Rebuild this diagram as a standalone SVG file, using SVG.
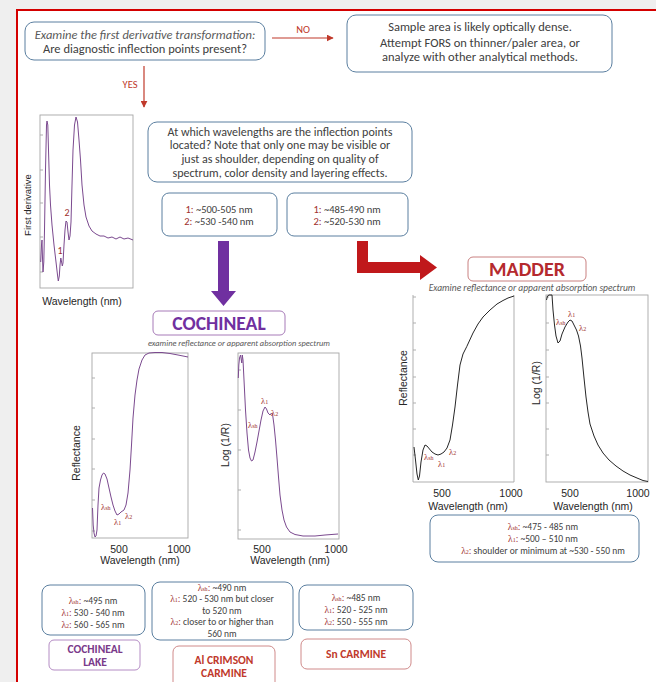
<svg xmlns="http://www.w3.org/2000/svg" width="656" height="682" viewBox="0 0 656 682">
<defs>
<style>
.t{font-family:Carlito,Lato,"Liberation Sans",sans-serif;fill:#404040}
.it{font-style:italic;fill:#595959}
.ax{font-family:"Liberation Sans",Arial,sans-serif;font-size:10.5px;fill:#262626}
.lam{font-family:"Liberation Serif","DejaVu Serif",serif;fill:#a0302e}
.red{fill:#a0302e}
.box{fill:#ffffff;stroke:#5b7fa0;stroke-width:1}
.frame{fill:none;stroke:#a6a6a6;stroke-width:0.9}
.tick{stroke:#a6a6a6;stroke-width:0.9}
.cp{fill:none;stroke:#7b4a8f;stroke-width:1;stroke-linejoin:round}
.cm{fill:none;stroke:#262626;stroke-width:1;stroke-linejoin:round}
.conn{stroke:#c0392b;stroke-width:1.2;fill:none}
</style>
<marker id="ah" viewBox="0 0 10 10" refX="9" refY="5" markerWidth="7" markerHeight="7" orient="auto" markerUnits="userSpaceOnUse">
<path d="M0,0 L10,5 L0,10 z" fill="#c0392b"/>
</marker>
</defs>
<rect x="0" y="0" width="656" height="682" fill="#efefef"/>
<rect x="17" y="10" width="660" height="700" fill="#ffffff" stroke="#d40000" stroke-width="2"/>

<g id="connectors">
<line class="conn" x1="272" y1="38" x2="333" y2="38" marker-end="url(#ah)"/>
<text class="t" x="303" y="33" font-size="10.5" text-anchor="middle" style="fill:#c0392b">NO</text>
<line class="conn" x1="144" y1="66" x2="144" y2="107" marker-end="url(#ah)"/>
<text class="t" x="130" y="88" font-size="10.5" text-anchor="middle" style="fill:#c0392b">YES</text>
<path d="M218,241 H229 V291 H236 L223.5,306 L211,291 H218 Z" fill="#7030a0"/>
<path d="M357,241 H368 V262 H420 V255 L437,267.5 L420,280 V273 H357 Z" fill="#c0181b"/>
</g>

<g id="q1">
<rect class="box" x="25" y="22" width="240" height="38" rx="9"/>
<text class="t it" x="145" y="39" font-size="12.5" text-anchor="middle">Examine the first derivative transformation:</text>
<text class="t" x="145" y="53" font-size="12.5" text-anchor="middle">Are diagnostic inflection points present?</text>
</g>

<g id="no-result">
<rect class="box" x="347" y="15" width="265" height="57" rx="9"/>
<text class="t" x="480" y="31" font-size="12.5" text-anchor="middle">Sample area is likely optically dense.</text>
<text class="t" x="480" y="47" font-size="12.5" text-anchor="middle">Attempt FORS on thinner/paler area, or</text>
<text class="t" x="480" y="61" font-size="12.5" text-anchor="middle">analyze with other analytical methods.</text>
</g>

<g id="derivative-chart">
<rect class="frame" x="40" y="115" width="93" height="173"/>
<path class="tick" d="M40,135 h3 M40,170 h3 M40,203 h3 M40,237 h3 M40,272 h3"/>
<path class="cp" d="M40.7,262 L41.5,245 L42,240 L42.5,258 L43,272 L43.8,262 L44.5,230 L45.5,170 L46.5,125 L47,121 L47.8,125 L48.5,150 L49.5,185 L50.5,205 L52,225 L54,245 L56,262 L57.5,275 L58.3,281 L59.3,276 L60,265 L60.8,258 L61.6,262 L62.3,266 L63,263 L64,245 L65,230 L66,221 L67,222 L68,232 L69,240 L70,236 L71,222 L72,185 L73,150 L74.5,125 L76,117 L77.5,122 L79,140 L80.5,160 L82,185 L84,205 L86,217 L89,226 L92,231 L96,234 L100,236 L104,236 L108,238 L112,237 L116,239 L120,237 L124,239 L128,238 L133,240"/>
<text class="t red" x="60" y="254" font-size="10" text-anchor="middle">1</text>
<text class="t red" x="67" y="216" font-size="10" text-anchor="middle">2</text>
<text class="ax" x="0" y="0" text-anchor="middle" transform="translate(31,205) rotate(-90)" style="font-size:9.5px">First derivative</text>
<text class="ax" x="82" y="305" text-anchor="middle">Wavelength (nm)</text>
</g>

<g id="q2">
<rect class="box" x="148" y="122" width="264" height="60" rx="9"/>
<text class="t" x="280" y="135.5" font-size="12" text-anchor="middle">At which wavelengths are the inflection points</text>
<text class="t" x="280" y="149.2" font-size="12" text-anchor="middle">located? Note that only one may be visible or</text>
<text class="t" x="280" y="162.9" font-size="12" text-anchor="middle">just as shoulder, depending on quality of</text>
<text class="t" x="280" y="176.6" font-size="12" text-anchor="middle">spectrum, color density and layering effects.</text>
</g>

<g id="range-cochineal">
<rect class="box" x="162" y="193" width="115" height="43" rx="7"/>
<text class="t" x="219" y="213" font-size="10.5" text-anchor="middle"><tspan class="red">1:</tspan> ~500-505 nm</text>
<text class="t" x="219" y="225" font-size="10.5" text-anchor="middle"><tspan class="red">2:</tspan> ~530 -540 nm</text>
</g>

<g id="range-madder">
<rect class="box" x="287" y="193" width="121" height="43" rx="7"/>
<text class="t" x="347" y="213" font-size="10.5" text-anchor="middle"><tspan class="red">1:</tspan> ~485-490 nm</text>
<text class="t" x="347" y="225" font-size="10.5" text-anchor="middle"><tspan class="red">2:</tspan> ~520-530 nm</text>
</g>

<g id="madder">
<rect x="468" y="257" width="118" height="24" rx="5" fill="#fff" stroke="#c98080" stroke-width="1"/>
<text class="t" x="527" y="276" font-size="20" font-weight="bold" text-anchor="middle" style="fill:#b52a2e">MADDER</text>
<text class="t it" x="532" y="291" font-size="9.5" text-anchor="middle">Examine reflectance or apparent absorption spectrum</text>
</g>

<g id="madder-reflectance">
<path class="frame" d="M413,295 V482 H514 V295"/>
<path class="tick" d="M413,297 h3 M413,323 h3 M413,350 h3 M413,377 h3 M413,403 h3 M413,429 h3 M413,455 h3"/>
<path class="cm" d="M414,447 L415.5,460 L417,474 L418.3,480 L419.5,476 L421,462 L423,450 L425,445 L427,446 L429.5,449 L432,452 L435,454 L438,455 L441,454 L444,452 L447,448 L450,440 L452.5,425 L455,407 L457.5,385 L460,365 L463,354 L466.7,346.7 L473,333 L478,324 L483,317 L490,310 L497,304 L503,300.5 L508,298 L514,296"/>
<text class="lam" x="424" y="460" font-size="8.5">λ<tspan font-size="6">sh</tspan></text>
<text class="lam" x="438" y="467" font-size="8.5">λ<tspan font-size="6">1</tspan></text>
<text class="lam" x="449" y="455" font-size="8.5">λ<tspan font-size="6">2</tspan></text>
<text class="ax" x="0" y="0" text-anchor="middle" transform="translate(407,378) rotate(-90)">Reflectance</text>
<text class="ax" x="442" y="497" text-anchor="middle">500</text>
<text class="ax" x="511" y="497" text-anchor="middle">1000</text>
<text class="ax" x="468" y="510" text-anchor="middle">Wavelength (nm)</text>
</g>

<g id="madder-log">
<rect class="frame" x="546" y="295" width="102" height="187"/>
<path class="tick" d="M546,297 h3 M546,323 h3 M546,350 h3 M546,377 h3 M546,403 h3 M546,429 h3 M546,455 h3"/>
<path class="cm" d="M546.5,300 L547.5,296 L549,295 L552,295 L553,310 L554.5,325 L556,336 L558,343 L560,341 L562,334 L565,327 L568,322 L570,320 L572,321 L574,325 L576.5,330 L578.5,336 L580.5,346 L582,358 L584,378 L586,397 L588,412 L590,424 L594,436 L598,445 L603,453 L609,460 L616,466 L623,471 L630,475 L637,478 L643,480.5 L648,481.5"/>
<text class="lam" x="556" y="325" font-size="8.5">λ<tspan font-size="6">sh</tspan></text>
<text class="lam" x="568" y="317" font-size="8.5">λ<tspan font-size="6">1</tspan></text>
<text class="lam" x="579" y="331" font-size="8.5">λ<tspan font-size="6">2</tspan></text>
<text class="ax" x="0" y="0" text-anchor="middle" transform="translate(540,383) rotate(-90)">Log (1/R)</text>
<text class="ax" x="570" y="497" text-anchor="middle">500</text>
<text class="ax" x="638" y="497" text-anchor="middle">1000</text>
<text class="ax" x="593" y="510" text-anchor="middle">Wavelength (nm)</text>
</g>

<g id="madder-info">
<rect class="box" x="430" y="515" width="209" height="47" rx="8"/>
<text class="t" x="543" y="530" font-size="9.5" text-anchor="middle"><tspan class="lam">λ<tspan font-size="6">sh</tspan>:</tspan> ~475 -  485 nm</text>
<text class="t" x="543" y="542" font-size="9.5" text-anchor="middle"><tspan class="lam">λ<tspan font-size="6">1</tspan>:</tspan> ~500 – 510 nm</text>
<text class="t" x="543" y="554" font-size="9.5" text-anchor="middle"><tspan class="lam">λ<tspan font-size="6">2</tspan>:</tspan> shoulder or minimum at ~530 - 550 nm</text>
</g>

<g id="cochineal">
<rect x="153" y="311" width="132" height="24" rx="5" fill="#fff" stroke="#a77bb8" stroke-width="1"/>
<text class="t" x="219" y="330" font-size="19.5" font-weight="bold" text-anchor="middle" style="fill:#7030a0">COCHINEAL</text>
<text class="t it" x="239" y="346" font-size="8.4" text-anchor="middle">examine reflectance or apparent absorption spectrum</text>
</g>

<g id="cochineal-reflectance">
<rect class="frame" x="92" y="353" width="96" height="185"/>
<path class="tick" d="M92,378 h3 M92,408 h3 M92,439 h3 M92,469 h3 M92,500 h3 M92,531 h3"/>
<path class="cp" d="M92.5,508 L93.2,525 L94,533 L95,537 L96,536 L97,530 L98,505 L99,488 L100.5,480 L102,475 L103.5,473 L105,474 L107,479 L109,488 L111,497 L113,505 L115,511 L117,515 L119,514 L121,512 L124,510 L126,505 L128,493 L130,470 L131.5,445 L133,418 L135,395 L137,380 L139,369 L142,360 L145,355 L149,353 L155,352.5 L162,352.5 L170,353.5 L178,355 L188,357"/>
<text class="lam" x="101" y="510" font-size="8.5">λ<tspan font-size="6">sh</tspan></text>
<text class="lam" x="114" y="525" font-size="8.5">λ<tspan font-size="6">1</tspan></text>
<text class="lam" x="125" y="519" font-size="8.5">λ<tspan font-size="6">2</tspan></text>
<text class="ax" x="0" y="0" text-anchor="middle" transform="translate(80,453) rotate(-90)">Reflectance</text>
<text class="ax" x="119" y="553" text-anchor="middle">500</text>
<text class="ax" x="179" y="553" text-anchor="middle">1000</text>
<text class="ax" x="140" y="564" text-anchor="middle">Wavelength (nm)</text>
</g>

<g id="cochineal-log">
<rect class="frame" x="238" y="353" width="101" height="186"/>
<path class="tick" d="M238,370 h3 M238,410 h3 M238,450 h3 M238,490 h3 M238,530 h3"/>
<path class="cp" d="M238.3,378 L238.8,365 L239.5,358 L240.5,355 L241.3,360 L241.8,363 L242.3,355 L243,360 L243.5,370 L244.5,390 L245.5,410 L247,433 L248.5,450 L250,458 L251.5,461 L253,460 L255,452 L257,442 L259,431 L261,420 L263,411 L265,407 L266.5,409 L268,413 L270,415 L271.5,413 L272.5,414 L274,425 L275.5,440 L277,458 L278.5,477 L280,495 L282,510 L284,520 L286.5,527 L290,532 L295,534.5 L303,536 L315,536 L325,535 L338,534"/>
<text class="lam" x="248" y="428" font-size="8.5">λ<tspan font-size="6">sh</tspan></text>
<text class="lam" x="261" y="404" font-size="8.5">λ<tspan font-size="6">1</tspan></text>
<text class="lam" x="271" y="416" font-size="8.5">λ<tspan font-size="6">2</tspan></text>
<text class="ax" x="0" y="0" text-anchor="middle" transform="translate(229,445) rotate(-90)">Log (1/R)</text>
<text class="ax" x="262" y="553" text-anchor="middle">500</text>
<text class="ax" x="336" y="553" text-anchor="middle">1000</text>
<text class="ax" x="290" y="564" text-anchor="middle">Wavelength (nm)</text>
</g>

<g id="lake-info">
<rect class="box" x="42" y="585" width="103" height="50" rx="8"/>
<text class="t" x="93" y="604" font-size="9.5" text-anchor="middle"><tspan class="lam">λ<tspan font-size="6">sh</tspan>:</tspan> ~495 nm</text>
<text class="t" x="93" y="616" font-size="9.5" text-anchor="middle"><tspan class="lam">λ<tspan font-size="6">1</tspan>:</tspan> 530 - 540 nm</text>
<text class="t" x="93" y="628" font-size="9.5" text-anchor="middle"><tspan class="lam">λ<tspan font-size="6">2</tspan>:</tspan> 560 - 565 nm</text>
</g>
<g id="cochineal-lake">
<rect x="49" y="640" width="91" height="30" rx="5" fill="#fff" stroke="#b48cc4" stroke-width="1"/>
<text class="t" x="95" y="653" font-size="11.5" font-weight="bold" text-anchor="middle" style="fill:#7a3a8a">COCHINEAL</text>
<text class="t" x="95" y="666" font-size="11.5" font-weight="bold" text-anchor="middle" style="fill:#7a3a8a">LAKE</text>
</g>

<g id="crimson-info">
<rect class="box" x="152" y="582" width="141" height="58" rx="8"/>
<text class="t" x="222" y="590.5" font-size="9.5" text-anchor="middle"><tspan class="lam">λ<tspan font-size="6">sh</tspan>:</tspan> ~490 nm</text>
<text class="t" x="222" y="602" font-size="9.5" text-anchor="middle"><tspan class="lam">λ<tspan font-size="6">1</tspan>:</tspan> 520 - 530 nm but closer</text>
<text class="t" x="222" y="613.5" font-size="9.5" text-anchor="middle">to 520 nm</text>
<text class="t" x="222" y="625" font-size="9.5" text-anchor="middle"><tspan class="lam">λ<tspan font-size="6">2</tspan>:</tspan> closer to or higher than</text>
<text class="t" x="222" y="636.5" font-size="9.5" text-anchor="middle">560 nm</text>
</g>
<g id="al-crimson">
<rect x="173" y="646" width="102" height="45" rx="6" fill="#fff" stroke="#d08a8a" stroke-width="1"/>
<text class="t" x="224" y="664" font-size="11.5" font-weight="bold" text-anchor="middle" style="fill:#c0392b">Al CRIMSON</text>
<text class="t" x="224" y="677" font-size="11.5" font-weight="bold" text-anchor="middle" style="fill:#c0392b">CARMINE</text>
</g>

<g id="sn-info">
<rect class="box" x="299" y="585" width="114" height="45" rx="8"/>
<text class="t" x="356" y="601" font-size="9.5" text-anchor="middle"><tspan class="lam">λ<tspan font-size="6">sh</tspan>:</tspan> ~485 nm</text>
<text class="t" x="356" y="613" font-size="9.5" text-anchor="middle"><tspan class="lam">λ<tspan font-size="6">1</tspan>:</tspan> 520 - 525 nm</text>
<text class="t" x="356" y="625" font-size="9.5" text-anchor="middle"><tspan class="lam">λ<tspan font-size="6">2</tspan>:</tspan> 550 - 555 nm</text>
</g>
<g id="sn-carmine">
<rect x="301" y="639" width="110" height="30" rx="6" fill="#fff" stroke="#d08a8a" stroke-width="1"/>
<text class="t" x="356" y="658" font-size="11.5" font-weight="bold" text-anchor="middle" style="fill:#c0392b">Sn CARMINE</text>
</g>
</svg>
